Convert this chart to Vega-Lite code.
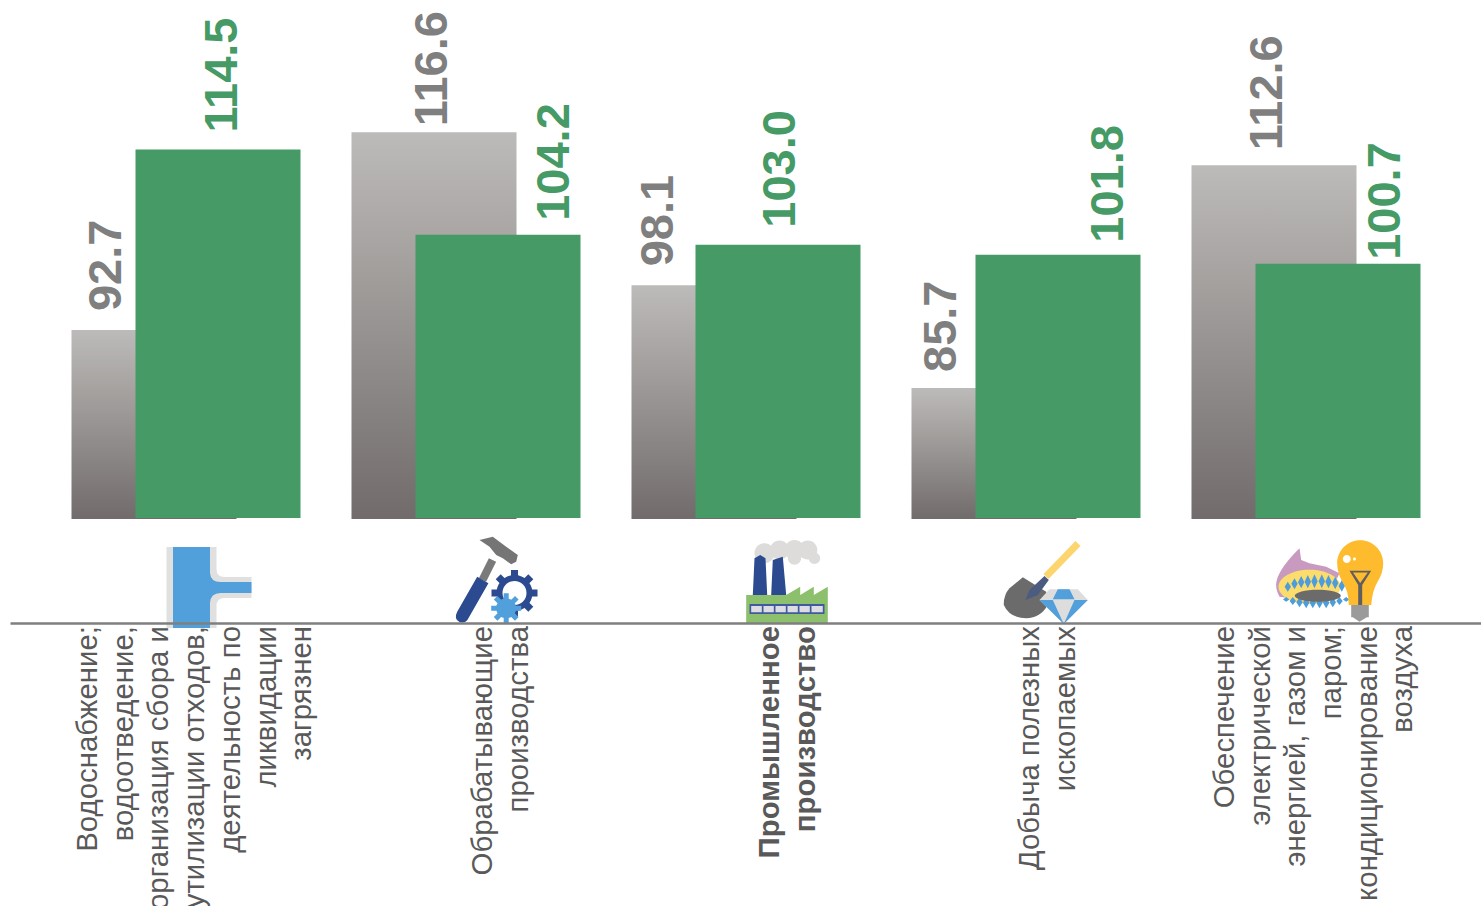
{"$schema":"https://vega.github.io/schema/vega-lite/v6.json","width":1481,"height":906,"autosize":{"type":"none"},"padding":0,"background":"#ffffff","config":{"view":{"stroke":null}},
"datasets":{"rows":[
{"sector":"water","series":"previous","value":92.7},{"sector":"water","series":"current","value":114.5},
{"sector":"manufacturing","series":"previous","value":116.6},{"sector":"manufacturing","series":"current","value":104.2},
{"sector":"industry","series":"previous","value":98.1},{"sector":"industry","series":"current","value":103.0},
{"sector":"mining","series":"previous","value":85.7},{"sector":"mining","series":"current","value":101.8},
{"sector":"power","series":"previous","value":112.6},{"sector":"power","series":"current","value":100.7}],
"labels":[
{"sector":"water","label":"Водоснабжение;\nводоотведение,\nорганизация сбора и\nутилизации отходов,\nдеятельность по\nликвидации\nзагрязнен"},
{"sector":"manufacturing","label":"Обрабатывающие\nпроизводства"},
{"sector":"industry","label":"Промышленное\nпроизводство"},
{"sector":"mining","label":"Добыча полезных\nископаемых"},
{"sector":"power","label":"Обеспечение\nэлектрической\nэнергией, газом и\nпаром;\nкондиционирование\nвоздуха"}],
"icons":[
{"sector":"water","part":"pipeGrey"},{"sector":"water","part":"pipeBlue"},
{"sector":"manufacturing","part":"neck"},{"sector":"manufacturing","part":"head"},{"sector":"manufacturing","part":"handle"},{"sector":"manufacturing","part":"gearBig"},{"sector":"manufacturing","part":"gearHole"},{"sector":"manufacturing","part":"gearSmall"},
{"sector":"industry","part":"smoke"},{"sector":"industry","part":"chimneys"},{"sector":"industry","part":"building"},{"sector":"industry","part":"strip"},{"sector":"industry","part":"windows"},
{"sector":"mining","part":"blade"},{"sector":"mining","part":"shaft"},{"sector":"mining","part":"shovelNeck"},{"sector":"mining","part":"diamond"},{"sector":"mining","part":"facets"},
{"sector":"power","part":"flame"},{"sector":"power","part":"burnerYellow"},{"sector":"power","part":"burnerBlue"},{"sector":"power","part":"burnerGrey"},{"sector":"power","part":"bulb"},{"sector":"power","part":"screw"},{"sector":"power","part":"filament"},{"sector":"power","part":"shine"}]},
"encoding":{"x":{"field":"sector","type":"nominal","sort":null,"scale":{"domain":["water","manufacturing","industry","mining","power"],"range":[10,1481],"paddingInner":0.17857,"paddingOuter":0.2161},"axis":{"offset":-283,"labels":false,"ticks":false,"title":null,"domainColor":"#7f7f7f","domainWidth":2.5,"grid":false,"zindex":1}}},
"layer":[
{"data":{"name":"rows"},"transform":[{"filter":"datum.series==='previous'"}],"mark":{"type":"bar","width":165,"xOffset":-31.5,"color":{"gradient":"linear","x1":0,"y1":0,"x2":0,"y2":1,"stops":[{"offset":0,"color":"#bdbbb9"},{"offset":1,"color":"#716c6b"}]}},
"encoding":{"y":{"field":"value","type":"quantitative","scale":{"domain":[23.14,132.56],"nice":false,"zero":false},"axis":null},"y2":{"datum":69.88}}},
{"data":{"name":"rows"},"transform":[{"filter":"datum.series==='current'"}],"mark":{"type":"bar","width":165,"xOffset":32.5,"color":"#459a65"},
"encoding":{"y":{"field":"value","type":"quantitative"},"y2":{"datum":70}}},
{"data":{"name":"icons"},"mark":{"type":"point","filled":true,"opacity":1,"size":40000},
"encoding":{"y":{"datum":57.32,"type":"quantitative"},
"color":{"field":"part","type":"nominal","legend":null,"scale":{
"domain":["pipeGrey","pipeBlue","neck","head","handle","gearBig","gearHole","gearSmall","smoke","chimneys","building","strip","windows","blade","shaft","shovelNeck","diamond","facets","flame","burnerYellow","burnerBlue","burnerGrey","bulb","screw","filament","shine"],
"range":["#e0e0e0","#519fdb","#7a7a7a","#757575","#2b4a90","#2b4a90","#ffffff","#519fdb","#dddcda","#2b4a90","#8cc06c","#3f5a9e","#dcdce2","#6b6b6b","#fdd56e","#4b5c80","#dddddd","#519fdb","#c89abf","#fddc6e","#4d9ddb","#6b6b6b","#fdbb2d","#9a9a9a","#5f5f5f","#ffffff"]}},
"shape":{"field":"part","type":"nominal","legend":null,"scale":{
"domain":["pipeGrey","pipeBlue","neck","head","handle","gearBig","gearHole","gearSmall","smoke","chimneys","building","strip","windows","blade","shaft","shovelNeck","diamond","facets","flame","burnerYellow","burnerBlue","burnerGrey","bulb","screw","filament","shine"],
"range":[
"M-.19 -.76L.31 -.76L.31 -.54Q.31 -.46 .39 -.46L.66 -.46L.66 -.25L.39 -.25Q.31 -.25 .31 -.17L.31 .05L-.19 .05Z",
"M-.125 -.76L.245 -.76L.245 -.5Q.25 -.41 .35 -.41L.66 -.41L.66 -.30L.35 -.30Q.25 -.30 .245 -.2L.245 .05L-.125 .05Z",
"M.206 -.412L.134 -.448L.234 -.648L.306 -.612Z",
"M.14 -.83L.273 -.863L.407 -.763L.523 -.68L.507 -.613L.457 -.587L.373 -.647L.307 -.68L.24 -.763Z",
"M.229 -.398L.117 -.462L-.083 -.112Q-.12 -.04 -.06 -.01Q0 .01 .029 -.048Z",
"M.26 -.335L.72 -.335L.72 -.265L.26 -.265Z M.455 -.53L.525 -.53L.525 -.07L.455 -.07Z M.352 -.488L.678 -.162L.628 -.112L.302 -.438Z M.628 -.488L.678 -.438L.352 -.112L.302 -.162Z M.31 -.30A.18 .18 0 1 1 .67 -.30A.18 .18 0 1 1 .31 -.30Z",
"M.37 -.30A.12 .12 0 1 1 .61 -.30A.12 .12 0 1 1 .37 -.30Z",
"M.257 -.172L.557 -.172L.557 -.122L.257 -.122Z M.382 -.297L.432 -.297L.432 .003L.382 .003Z M.319 -.271L.531 -.059L.495 -.023L.283 -.235Z M.495 -.271L.531 -.235L.319 -.023L.283 -.059Z M.307 -.147A.1 .1 0 1 1 .507 -.147A.1 .1 0 1 1 .307 -.147Z",
"M.09 -.697A.1 .1 0 1 1 .29 -.697A.1 .1 0 1 1 .09 -.697Z M.245 -.73A.095 .095 0 1 1 .435 -.73A.095 .095 0 1 1 .245 -.73Z M.39 -.73A.1 .1 0 1 1 .59 -.73A.1 .1 0 1 1 .39 -.73Z M.528 -.73A.095 .095 0 1 1 .718 -.73A.095 .095 0 1 1 .528 -.73Z M.633 -.647A.057 .057 0 1 1 .747 -.647A.057 .057 0 1 1 .633 -.647Z M.423 -.65A.067 .067 0 1 1 .557 -.65A.067 .067 0 1 1 .423 -.65Z",
"M.073 -.28L.09 -.647L.147 -.68L.2 -.647L.217 -.28Z M.257 -.28L.273 -.63L.373 -.663L.407 -.28Z",
"M.007 -.28L.407 -.28L.547 -.363L.547 -.28L.683 -.363L.683 -.28L.823 -.363L.823 .01L.007 .01Z",
"M.04 -.19L.79 -.19L.79 -.09L.04 -.09Z",
"M.057 -.17L.163 -.17L.163 -.107L.057 -.107Z M.18 -.17L.283 -.17L.283 -.107L.18 -.107Z M.30 -.17L.403 -.17L.403 -.107L.30 -.107Z M.42 -.17L.523 -.17L.523 -.107L.42 -.107Z M.54 -.17L.643 -.17L.643 -.107L.54 -.107Z M.66 -.17L.773 -.17L.773 -.107L.66 -.107Z",
"M-.027 -.457L.207 -.313L.223 -.18Q.15 -.05 .007 -.047Q-.16 -.05 -.217 -.18Q-.22 -.28 -.16 -.347Z",
"M.18 -.49L.50 -.82L.55 -.77L.23 -.44Z",
"M0 -.23L.04 -.33L.19 -.47L.233 -.43L.123 -.28Z",
"M.14 -.23L.24 -.337L.523 -.337L.623 -.23L.383 .01Z",
"M.323 -.337L.44 -.337L.49 -.237L.273 -.237Z M.14 -.23L.273 -.23L.383 .01Z M.49 -.23L.623 -.23L.383 .01Z",
"M-.06 -.747L-.043 -.63L.04 -.597L.207 -.563L.34 -.497L.2 -.2L-.26 -.263Q-.31 -.35 -.287 -.43Q-.25 -.56 -.06 -.747Z",
"M-.27 -.363A.31 .17 0 1 1 .35 -.363A.31 .17 0 1 1 -.27 -.363Z",
"M-.177 -.413L-.145 -.362L-.177 -.313L-.209 -.362Z M-.11 -.447L-.078 -.392L-.11 -.337L-.142 -.392Z M-.043 -.47L-.011 -.408L-.043 -.347L-.075 -.408Z M.023 -.48L.055 -.413L.023 -.347L-.009 -.413Z M.09 -.487L.122 -.417L.09 -.347L.058 -.417Z M.163 -.487L.195 -.417L.163 -.347L.131 -.417Z M.23 -.48L.262 -.413L.23 -.347L.198 -.413Z M.297 -.463L.329 -.40L.297 -.337L.265 -.40Z M.363 -.43L.395 -.37L.363 -.313L.331 -.37Z M-.193 -.26L-.161 -.236L-.193 -.213L-.225 -.236Z M-.127 -.26L-.095 -.22L-.127 -.18L-.159 -.22Z M-.06 -.26L-.028 -.208L-.06 -.157L-.092 -.208Z M.007 -.26L.039 -.203L.007 -.147L-.025 -.203Z M.073 -.26L.105 -.203L.073 -.147L.041 -.203Z M.14 -.26L.172 -.203L.14 -.147L.108 -.203Z M.207 -.26L.239 -.203L.207 -.147L.175 -.203Z M.273 -.26L.305 -.208L.273 -.157L.241 -.208Z M.34 -.26L.372 -.22L.34 -.18L.308 -.22Z M.407 -.26L.439 -.236L.407 -.213L.375 -.236Z",
"M-.107 -.273A.23 .06 0 1 1 .353 -.273A.23 .06 0 1 1 -.107 -.273Z",
"M.317 -.597A.23 .23 0 1 1 .777 -.597Q.777 -.50 .72 -.41Q.67 -.33 .657 -.18L.433 -.18Q.43 -.33 .37 -.41Q.317 -.5 .317 -.597Z",
"M.457 -.18L.633 -.18L.633 -.057L.613 -.057L.54 -.013L.473 -.057L.457 -.057Z",
"M.44 -.523L.657 -.523L.567 -.38L.567 -.18L.527 -.18L.527 -.38Z M.475 -.505L.547 -.40L.623 -.505Z",
"M.373 -.64A.04 .04 0 1 1 .453 -.64A.04 .04 0 1 1 .373 -.64Z M.475 -.64A.015 .015 0 1 1 .505 -.64A.015 .015 0 1 1 .475 -.64Z"
]}}}},
{"data":{"name":"labels"},"transform":[{"filter":"datum.sector==='water'"}],"mark":{"type":"text","angle":270,"align":"right","baseline":"middle","font":"Liberation Sans","fontSize":29.4,"lineHeight":35.7,"lineBreak":"\n","color":"#595959","dy":-97.5,"dx":-3},"encoding":{"y":{"datum":57.32,"type":"quantitative"},"text":{"field":"label"}}},
{"data":{"name":"labels"},"transform":[{"filter":"datum.sector==='manufacturing'"}],"mark":{"type":"text","angle":270,"align":"right","baseline":"middle","font":"Liberation Sans","fontSize":29.4,"lineHeight":35.7,"lineBreak":"\n","color":"#595959","dy":17.5,"dx":-3},"encoding":{"y":{"datum":57.32,"type":"quantitative"},"text":{"field":"label"}}},
{"data":{"name":"labels"},"transform":[{"filter":"datum.sector==='industry'"}],"mark":{"type":"text","angle":270,"align":"right","baseline":"middle","font":"Liberation Sans","fontSize":29.4,"fontWeight":"bold","lineHeight":35.7,"lineBreak":"\n","color":"#595959","dy":24.5,"dx":-3},"encoding":{"y":{"datum":57.32,"type":"quantitative"},"text":{"field":"label"}}},
{"data":{"name":"labels"},"transform":[{"filter":"datum.sector==='mining'"}],"mark":{"type":"text","angle":270,"align":"right","baseline":"middle","font":"Liberation Sans","fontSize":29.4,"lineHeight":35.7,"lineBreak":"\n","color":"#595959","dy":4.5,"dx":-3},"encoding":{"y":{"datum":57.32,"type":"quantitative"},"text":{"field":"label"}}},
{"data":{"name":"labels"},"transform":[{"filter":"datum.sector==='power'"}],"mark":{"type":"text","angle":270,"align":"right","baseline":"middle","font":"Liberation Sans","fontSize":29.4,"lineHeight":35.7,"lineBreak":"\n","color":"#595959","dy":-80.5,"dx":-3},"encoding":{"y":{"datum":57.32,"type":"quantitative"},"text":{"field":"label"}}},
{"data":{"name":"rows"},"transform":[{"filter":"datum.value===92.7"}],"mark":{"type":"text","angle":270,"align":"left","baseline":"middle","font":"Liberation Sans","fontSize":47,"fontWeight":"bold","color":"#7f7f7f","dy":-79,"dx":19},"encoding":{"y":{"field":"value","type":"quantitative"},"text":{"field":"value","format":".1f"}}},
{"data":{"name":"rows"},"transform":[{"filter":"datum.value===116.6"}],"mark":{"type":"text","angle":270,"align":"left","baseline":"middle","font":"Liberation Sans","fontSize":47,"fontWeight":"bold","color":"#7f7f7f","dy":-33,"dx":6},"encoding":{"y":{"field":"value","type":"quantitative"},"text":{"field":"value","format":".1f"}}},
{"data":{"name":"rows"},"transform":[{"filter":"datum.value===98.1"}],"mark":{"type":"text","angle":270,"align":"left","baseline":"middle","font":"Liberation Sans","fontSize":47,"fontWeight":"bold","color":"#7f7f7f","dy":-87,"dx":19},"encoding":{"y":{"field":"value","type":"quantitative"},"text":{"field":"value","format":".1f"}}},
{"data":{"name":"rows"},"transform":[{"filter":"datum.value===85.7"}],"mark":{"type":"text","angle":270,"align":"left","baseline":"middle","font":"Liberation Sans","fontSize":47,"fontWeight":"bold","color":"#7f7f7f","dy":-83,"dx":16},"encoding":{"y":{"field":"value","type":"quantitative"},"text":{"field":"value","format":".1f"}}},
{"data":{"name":"rows"},"transform":[{"filter":"datum.value===112.6"}],"mark":{"type":"text","angle":270,"align":"left","baseline":"middle","font":"Liberation Sans","fontSize":47,"fontWeight":"bold","color":"#7f7f7f","dy":-37,"dx":15},"encoding":{"y":{"field":"value","type":"quantitative"},"text":{"field":"value","format":".1f"}}},
{"data":{"name":"rows"},"transform":[{"filter":"datum.value===114.5"}],"mark":{"type":"text","angle":270,"align":"left","baseline":"middle","font":"Liberation Sans","fontSize":47,"fontWeight":"bold","color":"#459a65","dy":37,"dx":17},"encoding":{"y":{"field":"value","type":"quantitative"},"text":{"field":"value","format":".1f"}}},
{"data":{"name":"rows"},"transform":[{"filter":"datum.value===104.2"}],"mark":{"type":"text","angle":270,"align":"left","baseline":"middle","font":"Liberation Sans","fontSize":47,"fontWeight":"bold","color":"#459a65","dy":89,"dx":14},"encoding":{"y":{"field":"value","type":"quantitative"},"text":{"field":"value","format":".1f"}}},
{"data":{"name":"rows"},"transform":[{"filter":"datum.value===103"}],"mark":{"type":"text","angle":270,"align":"left","baseline":"middle","font":"Liberation Sans","fontSize":47,"fontWeight":"bold","color":"#459a65","dy":35,"dx":17},"encoding":{"y":{"field":"value","type":"quantitative"},"text":{"field":"value","format":".1f"}}},
{"data":{"name":"rows"},"transform":[{"filter":"datum.value===101.8"}],"mark":{"type":"text","angle":270,"align":"left","baseline":"middle","font":"Liberation Sans","fontSize":47,"fontWeight":"bold","color":"#459a65","dy":84,"dx":12},"encoding":{"y":{"field":"value","type":"quantitative"},"text":{"field":"value","format":".1f"}}},
{"data":{"name":"rows"},"transform":[{"filter":"datum.value===100.7"}],"mark":{"type":"text","angle":270,"align":"left","baseline":"middle","font":"Liberation Sans","fontSize":47,"fontWeight":"bold","color":"#459a65","dy":81,"dx":4},"encoding":{"y":{"field":"value","type":"quantitative"},"text":{"field":"value","format":".1f"}}}
]}
